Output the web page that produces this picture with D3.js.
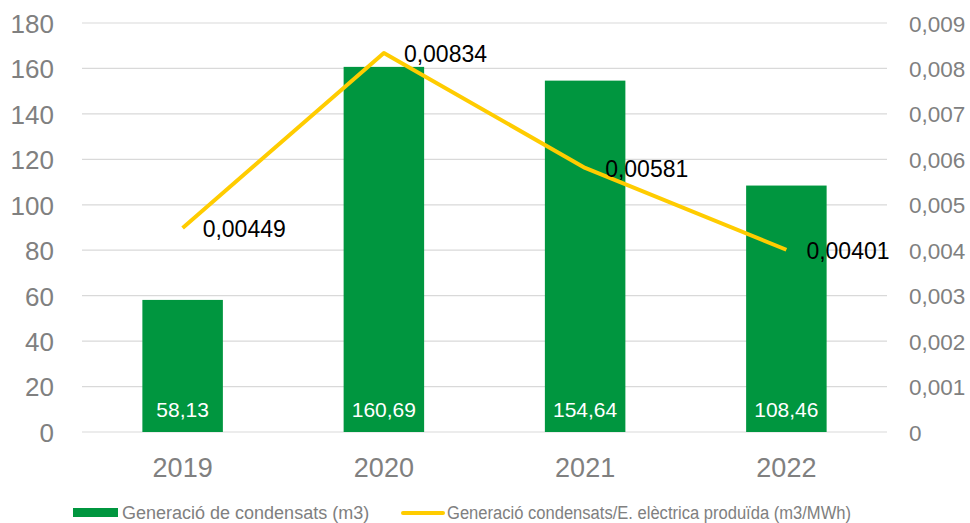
<!DOCTYPE html>
<html>
<head>
<meta charset="utf-8">
<script src="https://cdn.jsdelivr.net/npm/d3@7"></script>
<style>
  body { margin: 0; background: #fff; }
  svg { font-family: Arial, "Liberation Sans", sans-serif; }
</style>
</head>
<body>
<script>
'use strict';

// chart data
const years = ['2019', '2020', '2021', '2022'];
const condensats = [58.13, 160.69, 154.64, 108.46];      // m3
const ratio = [0.00449, 0.00834, 0.00581, 0.00401];      // m3/MWh
const leftTicks = [0, 20, 40, 60, 80, 100, 120, 140, 160, 180];
const rightTicks = [0, 0.001, 0.002, 0.003, 0.004, 0.005, 0.006, 0.007, 0.008, 0.009];

(function() {
  const width = 970, height = 523;
  const plotLeft = 82, plotRight = 887, plotTop = 23, plotBottom = 432;
  const green = '#00963f', yellow = '#ffcc00', grey = '#808080';

  const comma = (v, digits) => v.toFixed(digits).replace('.', ',');

  const svg = d3.select('body').append('svg')
    .attr('width', width)
    .attr('height', height);

  const x = d3.scaleBand().domain(years).range([plotLeft, plotRight]).paddingInner(0.6).paddingOuter(0.3);
  const yL = d3.scaleLinear().domain([0, 180]).range([plotBottom, plotTop]);
  const yR = d3.scaleLinear().domain([0, 0.009]).range([plotBottom, plotTop]);

  // gridlines
  svg.append('g').selectAll('line')
    .data(leftTicks)
    .enter().append('line')
      .attr('x1', plotLeft).attr('x2', plotRight)
      .attr('y1', d => yL(d)).attr('y2', d => yL(d))
      .attr('stroke', '#d9d9d9')
      .attr('stroke-width', 1.2);

  // left axis
  const axL = svg.append('g')
    .attr('transform', `translate(${plotLeft - 25},0)`)
    .call(d3.axisLeft(yL).tickValues(leftTicks).tickSize(0).tickFormat(d => d));
  axL.select('.domain').remove();
  axL.selectAll('text').attr('fill', grey).style('font-size', '26px').attr('dy', '0.36em');

  // right axis
  const axR = svg.append('g')
    .attr('transform', `translate(${plotRight + 19},0)`)
    .call(d3.axisRight(yR).tickValues(rightTicks).tickSize(0).tickFormat(d => d === 0 ? '0' : comma(d, 3)));
  axR.select('.domain').remove();
  axR.selectAll('text').attr('fill', grey).style('font-size', '22.5px').attr('dy', '0.36em');

  // bottom axis labels
  const axB = svg.append('g')
    .attr('transform', `translate(0,${plotBottom})`)
    .call(d3.axisBottom(x).tickSize(0));
  axB.select('.domain').remove();
  axB.selectAll('text').attr('fill', grey).style('font-size', '27px')
    .attr('y', 45).attr('dy', 0);

  // bars
  svg.append('g').selectAll('rect')
    .data(condensats)
    .enter().append('rect')
      .attr('x', (d, i) => x(years[i]))
      .attr('y', d => yL(d))
      .attr('width', x.bandwidth())
      .attr('height', d => yL(0) - yL(d))
      .attr('fill', green);

  // bar labels
  svg.append('g').selectAll('text')
    .data(condensats)
    .enter().append('text')
      .attr('x', (d, i) => x(years[i]) + x.bandwidth() / 2)
      .attr('y', plotBottom - 15)
      .attr('text-anchor', 'middle')
      .attr('fill', '#fff')
      .style('font-size', '21px')
      .text(d => comma(d, 2));

  // line
  const cx = i => x(years[i]) + x.bandwidth() / 2;
  svg.append('path')
    .datum(ratio)
    .attr('d', d3.line().x((d, i) => cx(i)).y(d => yR(d)))
    .attr('fill', 'none')
    .attr('stroke', yellow)
    .attr('stroke-width', 4)
    .attr('stroke-linejoin', 'round');

  // line labels
  svg.append('g').selectAll('text')
    .data(ratio)
    .enter().append('text')
      .attr('x', (d, i) => cx(i) + 20)
      .attr('y', d => yR(d) + 9)
      .attr('fill', '#000')
      .style('font-size', '23px')
      .text(d => comma(d, 5));

  // legend
  const lg = svg.append('g');
  lg.append('rect')
    .attr('x', 73).attr('y', 508)
    .attr('width', 45).attr('height', 9)
    .attr('fill', green);
  lg.append('text')
    .attr('x', 122).attr('y', 519)
    .attr('fill', grey).style('font-size', '18px')
    .text('Generació de condensats (m3)');
  lg.append('line')
    .attr('x1', 403).attr('x2', 443)
    .attr('y1', 513).attr('y2', 513)
    .attr('stroke', yellow).attr('stroke-width', 4)
    .attr('stroke-linecap', 'round');
  lg.append('text')
    .attr('x', 447).attr('y', 519)
    .attr('fill', grey).style('font-size', '18px')
    .attr('textLength', 404).attr('lengthAdjust', 'spacingAndGlyphs')
    .text('Generació condensats/E. elèctrica produïda (m3/MWh)');
})();
</script>
</body>
</html>
